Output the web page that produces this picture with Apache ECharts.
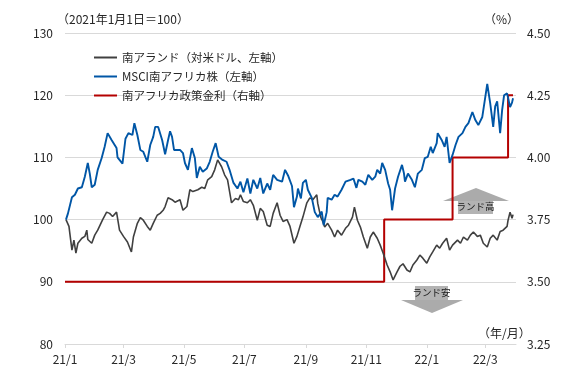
<!DOCTYPE html>
<html>
<head>
<meta charset="utf-8">
<script src="https://cdn.jsdelivr.net/npm/echarts@6/dist/echarts.min.js"></script>
<style>
  html, body { margin: 0; padding: 0; background: #fff; }
  #chart { width: 565px; height: 376px; }
</style>
</head>
<body>
<div id="chart"></div>
<script>
// 南アランド（対米ドル）, 2021/1/1 = 100
const randDates = [
  '2021-01-02','2021-01-05','2021-01-08','2021-01-10','2021-01-12','2021-01-14','2021-01-18','2021-01-21','2021-01-23','2021-01-24',
  '2021-01-28','2021-01-31','2021-02-03','2021-02-08','2021-02-12','2021-02-15','2021-02-18','2021-02-22','2021-02-25','2021-03-01',
  '2021-03-05','2021-03-09','2021-03-11','2021-03-15','2021-03-18','2021-03-21','2021-03-25','2021-03-28','2021-03-31','2021-04-04',
  '2021-04-07','2021-04-10','2021-04-12','2021-04-15','2021-04-19','2021-04-22','2021-04-27','2021-04-30','2021-05-04','2021-05-07',
  '2021-05-10','2021-05-15','2021-05-19','2021-05-22','2021-05-25','2021-05-29','2021-06-01','2021-06-04','2021-06-08','2021-06-11',
  '2021-06-14','2021-06-18','2021-06-22','2021-06-25','2021-06-27','2021-06-30','2021-07-04','2021-07-07','2021-07-10','2021-07-14',
  '2021-07-17','2021-07-20','2021-07-24','2021-07-27','2021-07-30','2021-08-03','2021-08-06','2021-08-09','2021-08-13','2021-08-16',
  '2021-08-20','2021-08-23','2021-08-26','2021-08-29','2021-09-02','2021-09-05','2021-09-08','2021-09-12','2021-09-13','2021-09-16',
  '2021-09-18','2021-09-20','2021-09-23','2021-09-27','2021-09-30','2021-10-03','2021-10-07','2021-10-11','2021-10-14','2021-10-18',
  '2021-10-20','2021-10-23','2021-10-26','2021-10-29','2021-11-02','2021-11-05','2021-11-08','2021-11-12','2021-11-15','2021-11-18',
  '2021-11-22','2021-11-25','2021-11-28','2021-12-02','2021-12-05','2021-12-08','2021-12-12','2021-12-15','2021-12-18','2021-12-22',
  '2021-12-25','2021-12-28','2022-01-01','2022-01-04','2022-01-07','2022-01-11','2022-01-14','2022-01-17','2022-01-21','2022-01-24',
  '2022-01-27','2022-02-01','2022-02-04','2022-02-07','2022-02-11','2022-02-14','2022-02-17','2022-02-21','2022-02-24','2022-02-27',
  '2022-03-03','2022-03-06','2022-03-09','2022-03-13','2022-03-16','2022-03-19','2022-03-23','2022-03-24','2022-03-26','2022-03-28',
  '2022-03-29'
];
const randValues = [
  100, 98.9, 95.1, 96.7, 94.6, 96.2, 97, 97.3, 98.3, 96.8,
  96.2, 97.5, 98.3, 100, 101.2, 101, 100.5, 101.2, 98.3, 97.3,
  96.4, 94.8, 97.2, 99.4, 100.3, 99.9, 98.9, 98.3, 99.4, 100.7,
  101, 101.5, 102.1, 103.5, 103.2, 102.8, 103.2, 101.5, 102.1, 104.8,
  104.5, 104.8, 105.2, 105, 106.4, 106.9, 108, 109.6, 108.5, 107.2,
  106.4, 102.7, 103.4, 103.2, 104, 102.9, 102.7, 103.2, 102.3, 99.9,
  101.8, 101.3, 99.1, 98.9, 101, 102.7, 100.7, 99.7, 100, 98.9,
  96.2, 97.3, 98.9, 100.4, 102.7, 103.5, 103.2, 104, 102.6, 100.4,
  99.7, 98.8, 99.4, 98.3, 97.2, 98.3, 97.5, 98.6, 99.1, 100.4,
  102, 99.9, 98.8, 97.2, 95.4, 97.2, 98, 97, 95.9, 94.6,
  92.7, 91.6, 90.3, 91.6, 92.5, 92.9, 91.9, 91.6, 92.7, 93.5,
  94.3, 93.8, 93, 94, 94.8, 95.9, 95.4, 96.2, 97, 95.1,
  95.9, 96.7, 96.2, 97.2, 96.7, 97.5, 98, 97.3, 97.5, 96.2,
  95.6, 97, 97.5, 96.7, 98.1, 98.3, 98.9, 99.9, 101.2, 100.2,
  100.8
];

// MSCI南アフリカ株, 2021/1/1 = 100
const msciDates = [
  '2021-01-02','2021-01-04','2021-01-08','2021-01-11','2021-01-14','2021-01-18','2021-01-21','2021-01-24','2021-01-26','2021-01-28',
  '2021-01-31','2021-02-03','2021-02-07','2021-02-10','2021-02-13','2021-02-17','2021-02-18','2021-02-22','2021-02-23','2021-02-28',
  '2021-03-03','2021-03-06','2021-03-10','2021-03-12','2021-03-15','2021-03-18','2021-03-21','2021-03-25','2021-03-28','2021-03-31',
  '2021-04-02','2021-04-05','2021-04-07','2021-04-09','2021-04-12','2021-04-15','2021-04-17','2021-04-19','2021-04-21','2021-04-27',
  '2021-04-30','2021-05-02','2021-05-05','2021-05-09','2021-05-12','2021-05-14','2021-05-17','2021-05-20','2021-05-24','2021-05-27',
  '2021-05-30','2021-06-02','2021-06-05','2021-06-09','2021-06-13','2021-06-16','2021-06-20','2021-06-24','2021-06-27','2021-06-30',
  '2021-07-04','2021-07-07','2021-07-10','2021-07-14','2021-07-17','2021-07-20','2021-07-24','2021-07-27','2021-07-30','2021-08-03',
  '2021-08-08','2021-08-11','2021-08-14','2021-08-18','2021-08-20','2021-08-23','2021-08-24','2021-08-27','2021-08-29','2021-09-01',
  '2021-09-03','2021-09-05','2021-09-07','2021-09-10','2021-09-13','2021-09-17','2021-09-19','2021-09-22','2021-09-23','2021-09-27',
  '2021-09-30','2021-10-03','2021-10-07','2021-10-11','2021-10-16','2021-10-19','2021-10-22','2021-10-24','2021-10-28','2021-10-31',
  '2021-11-03','2021-11-07','2021-11-10','2021-11-12','2021-11-15','2021-11-17','2021-11-20','2021-11-23','2021-11-25','2021-11-27',
  '2021-11-30','2021-12-03','2021-12-07','2021-12-09','2021-12-10','2021-12-13','2021-12-17','2021-12-20','2021-12-23','2021-12-27',
  '2021-12-30','2022-01-02','2022-01-05','2022-01-07','2022-01-11','2022-01-12','2022-01-16','2022-01-19','2022-01-21','2022-01-24',
  '2022-01-27','2022-01-30','2022-02-02','2022-02-06','2022-02-09','2022-02-12','2022-02-16','2022-02-19','2022-02-22','2022-02-26',
  '2022-03-01','2022-03-03','2022-03-06','2022-03-09','2022-03-11','2022-03-13','2022-03-16','2022-03-18','2022-03-20','2022-03-23',
  '2022-03-26','2022-03-28','2022-03-29'
];
const msciValues = [
  100, 101, 103.6, 104, 105, 105.2, 106.9, 109.1, 107.4, 105.2,
  105.6, 108, 109.9, 111.7, 113.9, 112.8, 113.1, 111.5, 110, 109,
  113, 113.9, 113.6, 115.5, 113.6, 111.2, 110.9, 109.3, 112, 113.3,
  114.9, 114.9, 115.2, 112.8, 110.5, 112.8, 114.2, 113.3, 111.2, 111.2,
  110.7, 109.1, 108, 111.5, 109.9, 106.7, 108.5, 107.7, 108.2, 109.3,
  110.9, 112.3, 110.1, 109.6, 109.3, 108, 105.9, 105, 106.1, 104.4,
  106.6, 104.2, 106.4, 105, 106.7, 104.2, 105.8, 104.8, 107.2, 106.4,
  106.1, 108, 107.1, 105.4, 102, 103.7, 105, 103.4, 105.9, 106.4,
  104.8, 104.5, 103.5, 101.2, 100.4, 101.3, 99.1, 101.2, 103.5, 103.2,
  104, 103.7, 104.8, 106.1, 106.4, 106.6, 105.1, 106.4, 106.1, 105.6,
  107.2, 106.4, 106.9, 108, 107.4, 109.1, 108, 105.8, 104.8, 101.5,
  105, 106.9, 108.8, 107.4, 106.1, 107.4, 106.4, 105.2, 107.4, 108,
  109.9, 110.1, 111.7, 110.7, 112.3, 113.9, 112.8, 111.7, 113.3, 109.1,
  110.4, 112, 113.3, 113.9, 114.9, 115.5, 117.3, 116, 115.2, 116.5,
  119.7, 121.8, 118.7, 114.9, 118.2, 119, 113.9, 117.6, 120, 120.3,
  118.1, 118.8, 119.5
];

// 南アフリカ政策金利 (%)
const rateDates = ['2021-01-01', '2021-11-19', '2022-01-27', '2022-03-24', '2022-03-29'];
const rateValues = [3.5, 3.75, 4.0, 4.25, 4.25];

// x軸の目盛（隔月）
const tickDates = ['2021-01-01', '2021-03-01', '2021-05-01', '2021-07-01', '2021-09-01', '2021-11-01', '2022-01-01', '2022-03-01'];

const seriesNames = ['南アランド（対米ドル、左軸）', 'MSCI南アフリカ株（左軸）', '南アフリカ政策金利（右軸）'];

const FONT = '"Noto Sans CJK JP", "Noto Sans", sans-serif';
const toTime = s => {
  const p = s.split('-').map(Number);
  return new Date(p[0], p[1] - 1, p[2]).getTime();
};
const tickTimes = tickDates.map(toTime);

const chart = echarts.init(document.getElementById('chart'), null, { renderer: 'canvas' });

const option = {
  animation: false,
  textStyle: { fontFamily: FONT },
  grid: { left: 65, right: 49, top: 33, bottom: 32 },
  legend: {
    orient: 'vertical',
    left: 89,
    top: 46,
    icon: 'rect',
    itemWidth: 23,
    itemHeight: 2,
    itemGap: 6,
    textStyle: { fontSize: 11.5, lineHeight: 13, color: '#262626', fontFamily: FONT },
    data: seriesNames
  },
  xAxis: {
    type: 'value',
    min: toTime('2021-01-01'),
    max: toTime('2022-04-01'),
    axisLine: { show: true, lineStyle: { color: '#d9d9d9', width: 1 } },
    axisTick: { show: true, customValues: tickTimes, length: 4, lineStyle: { color: '#d9d9d9' } },
    axisLabel: {
      customValues: tickTimes,
      fontSize: 12,
      color: '#262626',
      margin: 9,
      formatter: v => {
        const d = new Date(v);
        return String(d.getFullYear()).slice(2) + '/' + (d.getMonth() + 1);
      }
    },
    splitLine: { show: false }
  },
  yAxis: [
    {
      type: 'value',
      min: 80,
      max: 130,
      interval: 10,
      axisLine: { show: false },
      axisTick: { show: false },
      axisLabel: { fontSize: 12, color: '#262626', margin: 12 },
      splitLine: { lineStyle: { color: '#d9d9d9', width: 1 } }
    },
    {
      type: 'value',
      min: 3.25,
      max: 4.5,
      interval: 0.25,
      axisLine: { show: false },
      axisTick: { show: false },
      axisLabel: { fontSize: 12, color: '#262626', margin: 11, formatter: v => v.toFixed(2) },
      splitLine: { show: false }
    }
  ],
  series: [
    {
      name: seriesNames[0],
      type: 'line',
      yAxisIndex: 0,
      showSymbol: false,
      symbol: 'none',
      lineStyle: { color: '#404040', width: 1.6 },
      itemStyle: { color: '#404040' },
      data: randDates.map((d, i) => [toTime(d), randValues[i]]),
      z: 3
    },
    {
      name: seriesNames[1],
      type: 'line',
      yAxisIndex: 0,
      showSymbol: false,
      symbol: 'none',
      lineStyle: { color: '#0056a6', width: 1.9 },
      itemStyle: { color: '#0056a6' },
      data: msciDates.map((d, i) => [toTime(d), msciValues[i]]),
      z: 4
    },
    {
      name: seriesNames[2],
      type: 'line',
      yAxisIndex: 1,
      step: 'end',
      showSymbol: false,
      symbol: 'none',
      lineStyle: { color: '#b40000', width: 2 },
      itemStyle: { color: '#b40000' },
      data: rateDates.map((d, i) => [toTime(d), rateValues[i]]),
      z: 2
    }
  ],
  graphic: [
    { type: 'text', left: 57, top: 13, style: { text: '（2021年1月1日＝100）', font: '12px ' + FONT, fill: '#262626' } },
    { type: 'text', left: 484, top: 13, style: { text: '（%）', font: '12px ' + FONT, fill: '#262626' } },
    { type: 'text', left: 478, top: 327, style: { text: '（年/月）', font: '12px ' + FONT, fill: '#262626' } },
    // ランド高 arrow
    { type: 'polygon', shape: { points: [[443, 201], [476, 188], [509, 201]] }, style: { fill: '#ababab' } },
    { type: 'rect', shape: { x: 458, y: 201, width: 35, height: 13 }, style: { fill: '#b3b3b3' } },
    { type: 'text', x: 475.5, y: 201.5, style: { text: 'ランド高', font: '9.5px ' + FONT, fill: '#1a1a1a', align: 'center', verticalAlign: 'top' } },
    // ランド安 arrow
    { type: 'rect', shape: { x: 415, y: 286, width: 33, height: 14 }, style: { fill: '#b3b3b3' } },
    { type: 'polygon', shape: { points: [[401, 300], [463, 300], [432, 313]] }, style: { fill: '#ababab' } },
    { type: 'text', x: 431.5, y: 287.5, style: { text: 'ランド安', font: '9.5px ' + FONT, fill: '#1a1a1a', align: 'center', verticalAlign: 'top' } }
  ]
};

chart.setOption(option);
</script>
</body>
</html>
